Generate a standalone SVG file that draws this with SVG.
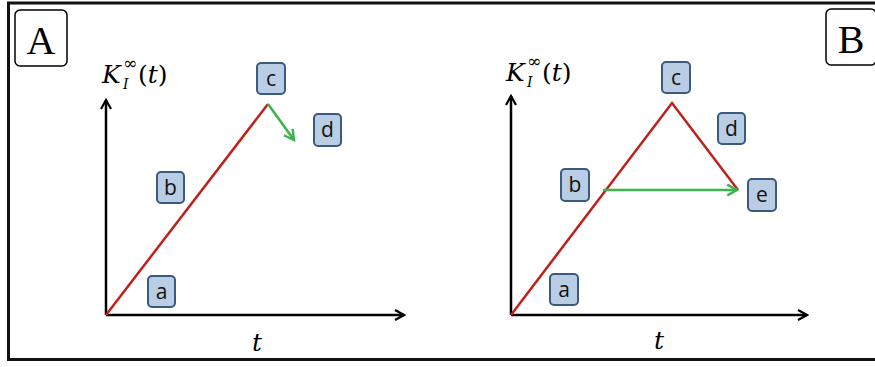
<svg xmlns="http://www.w3.org/2000/svg" width="875" height="367" viewBox="0 0 875 367">
<defs>
<style>
.box{fill:#b9cde5;stroke:#3b5a80;stroke-width:2}
.lbl{font-family:"Open Sans","Liberation Sans",sans-serif;font-size:21px;fill:#111;text-anchor:middle}
.panel{fill:#fff;stroke:#000;stroke-width:1.5}
.plet{font-family:"Liberation Serif",serif;font-size:40px;text-anchor:middle;fill:#000}
.math{font-family:"DejaVu Serif","Liberation Serif",serif;font-style:italic;fill:#000}
.up{font-family:"DejaVu Serif","Liberation Serif",serif;fill:#000}
.axis{stroke:#000;stroke-width:2.5;fill:none}
.red{stroke:#c0201c;stroke-width:2.5;fill:none}
.green{stroke:#3cb44b;stroke-width:2.5;fill:none}
</style>
<marker id="ah" viewBox="0 0 12 12" refX="10" refY="6" markerWidth="12" markerHeight="12" markerUnits="userSpaceOnUse" orient="auto">
<path d="M1,1 L10,6 L1,11" fill="none" stroke="#000" stroke-width="2.2"/>
</marker>
<marker id="gh" viewBox="0 0 12 12" refX="10" refY="6" markerWidth="13" markerHeight="13" markerUnits="userSpaceOnUse" orient="auto">
<path d="M1,1 L10,6 L1,11" fill="none" stroke="#3cb44b" stroke-width="2.2"/>
</marker>
</defs>
<rect x="0" y="0" width="875" height="367" fill="#fff"/>
<path d="M878,3 H8.5 V359.5 H878" fill="none" stroke="#111" stroke-width="3"/>
<g id="panelA">
<rect class="panel" x="15" y="10" width="52" height="56" rx="5"/>
<text class="plet" x="41" y="54">A</text>
</g>
<g id="panelB">
<rect class="panel" x="826" y="9" width="50" height="56" rx="5"/>
<text class="plet" x="851" y="53">B</text>
</g>
<g id="connectors">
<line class="axis" x1="106" y1="315" x2="106" y2="100" marker-end="url(#ah)"/>
<line class="axis" x1="106" y1="315" x2="404" y2="315" marker-end="url(#ah)"/>
<polyline class="red" points="106,315 268,104"/>
<line class="green" x1="268" y1="104" x2="294" y2="140" marker-end="url(#gh)"/>
<line class="axis" x1="511" y1="315" x2="511" y2="96" marker-end="url(#ah)"/>
<line class="axis" x1="511" y1="315" x2="807" y2="315" marker-end="url(#ah)"/>
<polyline class="red" points="511,315 672,103 738,190"/>
<line class="green" x1="603" y1="190" x2="737" y2="190" marker-end="url(#gh)"/>
</g>
<g id="labelsA">
<text class="math" x="102" y="83" font-size="25">K</text>
<text class="math" x="123" y="89" font-size="14">I</text>
<text class="up" x="123" y="69" font-size="17">∞</text>
<text class="up" x="138" y="83" font-size="25">(<tspan class="math">t</tspan>)</text>
<text class="math" x="252" y="351" font-size="25">t</text>
</g>
<g id="labelsB">
<text class="math" x="506" y="81" font-size="25">K</text>
<text class="math" x="527" y="87" font-size="14">I</text>
<text class="up" x="527" y="67" font-size="17">∞</text>
<text class="up" x="542" y="81" font-size="25">(<tspan class="math">t</tspan>)</text>
<text class="math" x="654" y="349" font-size="25">t</text>
</g>
<g id="A-a"><rect class="box" x="148" y="276" width="27" height="31" rx="4"/><text class="lbl" x="161.5" y="299">a</text></g>
<g id="A-b"><rect class="box" x="157" y="172" width="27" height="31" rx="4"/><text class="lbl" x="170.5" y="195">b</text></g>
<g id="A-c"><rect class="box" x="257" y="63" width="28" height="31" rx="4"/><text class="lbl" x="271" y="86">c</text></g>
<g id="A-d"><rect class="box" x="314" y="114" width="27" height="32" rx="4"/><text class="lbl" x="327.5" y="137">d</text></g>
<g id="B-a"><rect class="box" x="550" y="274" width="28" height="31" rx="4"/><text class="lbl" x="564" y="297">a</text></g>
<g id="B-b"><rect class="box" x="561" y="169" width="28" height="32" rx="4"/><text class="lbl" x="575" y="192">b</text></g>
<g id="B-c"><rect class="box" x="662" y="62" width="28" height="31" rx="4"/><text class="lbl" x="676" y="85">c</text></g>
<g id="B-d"><rect class="box" x="718" y="113" width="27" height="31" rx="4"/><text class="lbl" x="731.5" y="136">d</text></g>
<g id="B-e"><rect class="box" x="748" y="179" width="28" height="32" rx="4"/><text class="lbl" x="762" y="202">e</text></g>
</svg>
